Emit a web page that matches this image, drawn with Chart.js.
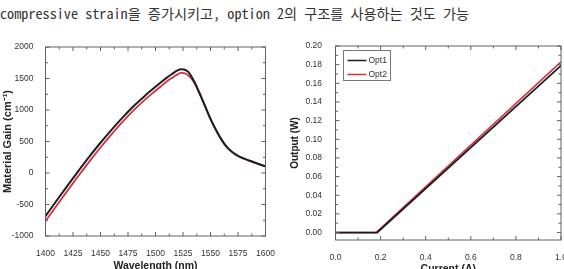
<!DOCTYPE html>
<html>
<head>
<meta charset="utf-8">
<script src="https://cdn.jsdelivr.net/npm/chart.js@4.4.1/dist/chart.umd.min.js"></script>
<style>
  html, body { margin: 0; padding: 0; background: #fff; width: 564px; height: 269px; overflow: hidden; }
  #caption {
    position: absolute; left: 0; top: 3px;
    font-family: "Noto Sans Mono CJK KR", "Liberation Mono", monospace;
    font-size: 14.2px; color: #333; white-space: nowrap;
  }
  .box { position: absolute; top: 38px; height: 231px; }
</style>
</head>
<body>
<div id="caption">compressive strain을 증가시키고, option 2의 구조를 사용하는 것도 가능</div>
<div class="box" style="left:0;width:280px"><canvas id="gain" width="280" height="231"></canvas></div>
<div class="box" style="left:280px;width:284px"><canvas id="power" width="284" height="231"></canvas></div>
<script>
// material gain spectra
const wavelength = [1400, 1410, 1420, 1430, 1440, 1450, 1460, 1470, 1480, 1490, 1500, 1505, 1510, 1515, 1520, 1523, 1526, 1530, 1535, 1540, 1545, 1550, 1555, 1560, 1565, 1570, 1575, 1580, 1585, 1590, 1595, 1600];
const gainOpt1 = [-684, -440, -200, 35, 263, 480, 685, 880, 1060, 1220, 1368, 1440, 1510, 1572, 1628, 1648, 1642, 1600, 1460, 1270, 1065, 860, 684, 530, 410, 330, 272, 232, 198, 166, 135, 105];
const gainOpt2 = [-763, -520, -280, -45, 185, 405, 612, 810, 993, 1157, 1305, 1378, 1448, 1510, 1566, 1588, 1584, 1548, 1440, 1262, 1060, 857, 682, 528, 408, 328, 270, 230, 196, 164, 133, 103];

// L-I curves
const currentOpt1 = [0, 0.185, 1.0];
const outputOpt1 = [0, 0, 0.179];
const currentOpt2 = [0, 0.18, 1.0];
const outputOpt2 = [0, 0, 0.183];

const wavelengthTicks = [1400, 1425, 1450, 1475, 1500, 1525, 1550, 1575, 1600];
const gainTicks = [-1000, -500, 0, 500, 1000, 1500, 2000];
const currentTicks = [0, 0.2, 0.4, 0.6, 0.8, 1.0];
const outputTicks = [0, 0.02, 0.04, 0.06, 0.08, 0.10, 0.12, 0.14, 0.16, 0.18, 0.20];

const tickFont = { family: '"Liberation Sans", Arial, sans-serif', size: 8.5 };
const titleFont = (size) => ({ family: '"Liberation Sans", Arial, sans-serif', size: size, weight: 'bold' });

// box around the plot with inward major/minor ticks on all sides
const frame = {
  id: 'frame',
  afterDatasetsDraw(chart) {
    const { ctx, chartArea: a, scales: { x, y } } = chart;
    const marks = (scale) => {
      const v = scale.ticks.map((t) => t.value);
      const out = [];
      v.forEach((t, i) => {
        out.push([t, 4]);
        if (i < v.length - 1) out.push([(t + v[i + 1]) / 2, 2.5]);
      });
      return out;
    };
    ctx.save();
    ctx.strokeStyle = '#606060';
    ctx.lineWidth = 1;
    ctx.strokeRect(a.left, a.top, a.right - a.left, a.bottom - a.top);
    ctx.beginPath();
    marks(x).forEach(([v, len]) => {
      const px = x.getPixelForValue(v);
      ctx.moveTo(px, a.bottom); ctx.lineTo(px, a.bottom - len);
      ctx.moveTo(px, a.top); ctx.lineTo(px, a.top + len);
    });
    marks(y).forEach(([v, len]) => {
      const py = y.getPixelForValue(v);
      if (py < a.top - 0.5 || py > a.bottom + 0.5) return;
      ctx.moveTo(a.left, py); ctx.lineTo(a.left + len, py);
      ctx.moveTo(a.right, py); ctx.lineTo(a.right - len, py);
    });
    ctx.stroke();
    ctx.restore();
  },
};

// small boxed legend in the upper-left corner of the plot
const boxLegend = {
  id: 'boxLegend',
  afterDraw(chart) {
    const { ctx, chartArea: a } = chart;
    const x0 = Math.round(a.left + 7) + 0.5;
    const y0 = Math.round(a.top + 4) + 0.5;
    ctx.save();
    ctx.strokeStyle = '#777';
    ctx.lineWidth = 1;
    ctx.strokeRect(x0, y0, 47, 30);
    ctx.font = '8.5px "Liberation Sans", Arial, sans-serif';
    ctx.textBaseline = 'middle';
    ctx.fillStyle = '#333';
    chart.data.datasets.forEach((ds, i) => {
      const yy = y0 + 10 + i * 14;
      ctx.strokeStyle = ds.borderColor;
      ctx.lineWidth = 1.5;
      ctx.beginPath();
      ctx.moveTo(x0 + 4, yy);
      ctx.lineTo(x0 + 23, yy);
      ctx.stroke();
      ctx.fillText(ds.label, x0 + 25, yy);
    });
    ctx.restore();
  },
};

function fixedAxis(ticksList, size, isX) {
  return {
    afterBuildTicks: (s) => { s.ticks = ticksList.map((v) => ({ value: v })); },
    afterFit: (s) => {
      if (isX) s.height = size; else s.width = size;
      s.paddingLeft = 0; s.paddingRight = 0; s.paddingTop = 0; s.paddingBottom = 0;
    },
    grid: { display: false },
    border: { display: false },
  };
}

new Chart(document.getElementById('gain'), {
  type: 'line',
  data: {
    datasets: [
      { label: 'Opt1', data: wavelength.map((w, i) => ({ x: w, y: gainOpt1[i] })), borderColor: '#1e1e1e', borderWidth: 2, pointRadius: 0, cubicInterpolationMode: 'monotone' },
      { label: 'Opt2', data: wavelength.map((w, i) => ({ x: w, y: gainOpt2[i] })), borderColor: '#d6303f', borderWidth: 1.8, pointRadius: 0, cubicInterpolationMode: 'monotone' },
    ],
  },
  options: {
    responsive: false,
    animation: false,
    layout: { padding: { top: 9, right: 14.5, left: 0, bottom: 0 } },
    plugins: { legend: { display: false }, tooltip: { enabled: false } },
    scales: {
      x: {
        type: 'linear', min: 1400, max: 1600,
        ...fixedAxis(wavelengthTicks, 33, true),
        ticks: { font: tickFont, color: '#333', padding: 5, maxRotation: 0, autoSkip: false, callback: (v) => String(v) },
        title: { display: true, text: 'Wavelength (nm)', font: titleFont(10.5), color: '#222', padding: { top: 0, bottom: -3 } },
      },
      y: {
        type: 'linear', min: -1000, max: 2000,
        ...fixedAxis(gainTicks, 45.5, false),
        ticks: { font: tickFont, color: '#333', padding: 4, autoSkip: false, callback: (v) => String(v) },
        title: { display: true, text: 'Material Gain (cm⁻¹)', font: titleFont(11), color: '#222', padding: { top: 1, bottom: 0 } },
      },
    },
  },
  plugins: [frame],
});

new Chart(document.getElementById('power'), {
  type: 'line',
  data: {
    datasets: [
      { label: 'Opt1', data: currentOpt1.map((c, i) => ({ x: c, y: outputOpt1[i] })), borderColor: '#1e1e1e', borderWidth: 1.8, pointRadius: 0 },
      { label: 'Opt2', data: currentOpt2.map((c, i) => ({ x: c, y: outputOpt2[i] })), borderColor: '#d6303f', borderWidth: 1.6, pointRadius: 0 },
    ],
  },
  options: {
    responsive: false,
    animation: false,
    layout: { padding: { top: 8, right: 3, left: 0, bottom: 0 } },
    plugins: { legend: { display: false }, tooltip: { enabled: false } },
    scales: {
      x: {
        type: 'linear', min: 0, max: 1.0,
        ...fixedAxis(currentTicks, 29, true),
        ticks: { font: tickFont, color: '#333', padding: 5, maxRotation: 0, autoSkip: false, callback: (v) => Number(v).toFixed(1) },
        title: { display: true, text: 'Current (A)', font: titleFont(10.5), color: '#222', padding: { top: 0, bottom: -6 } },
      },
      y: {
        type: 'linear', min: -0.008, max: 0.2,
        ...fixedAxis(outputTicks, 55.5, false),
        ticks: { font: tickFont, color: '#333', padding: 5.5, autoSkip: false, callback: (v) => Number(v).toFixed(2) },
        title: { display: true, text: 'Output (W)', font: titleFont(10), color: '#222', padding: { top: 9.5, bottom: 0 } },
      },
    },
  },
  plugins: [frame, boxLegend],
});
</script>
</body>
</html>
